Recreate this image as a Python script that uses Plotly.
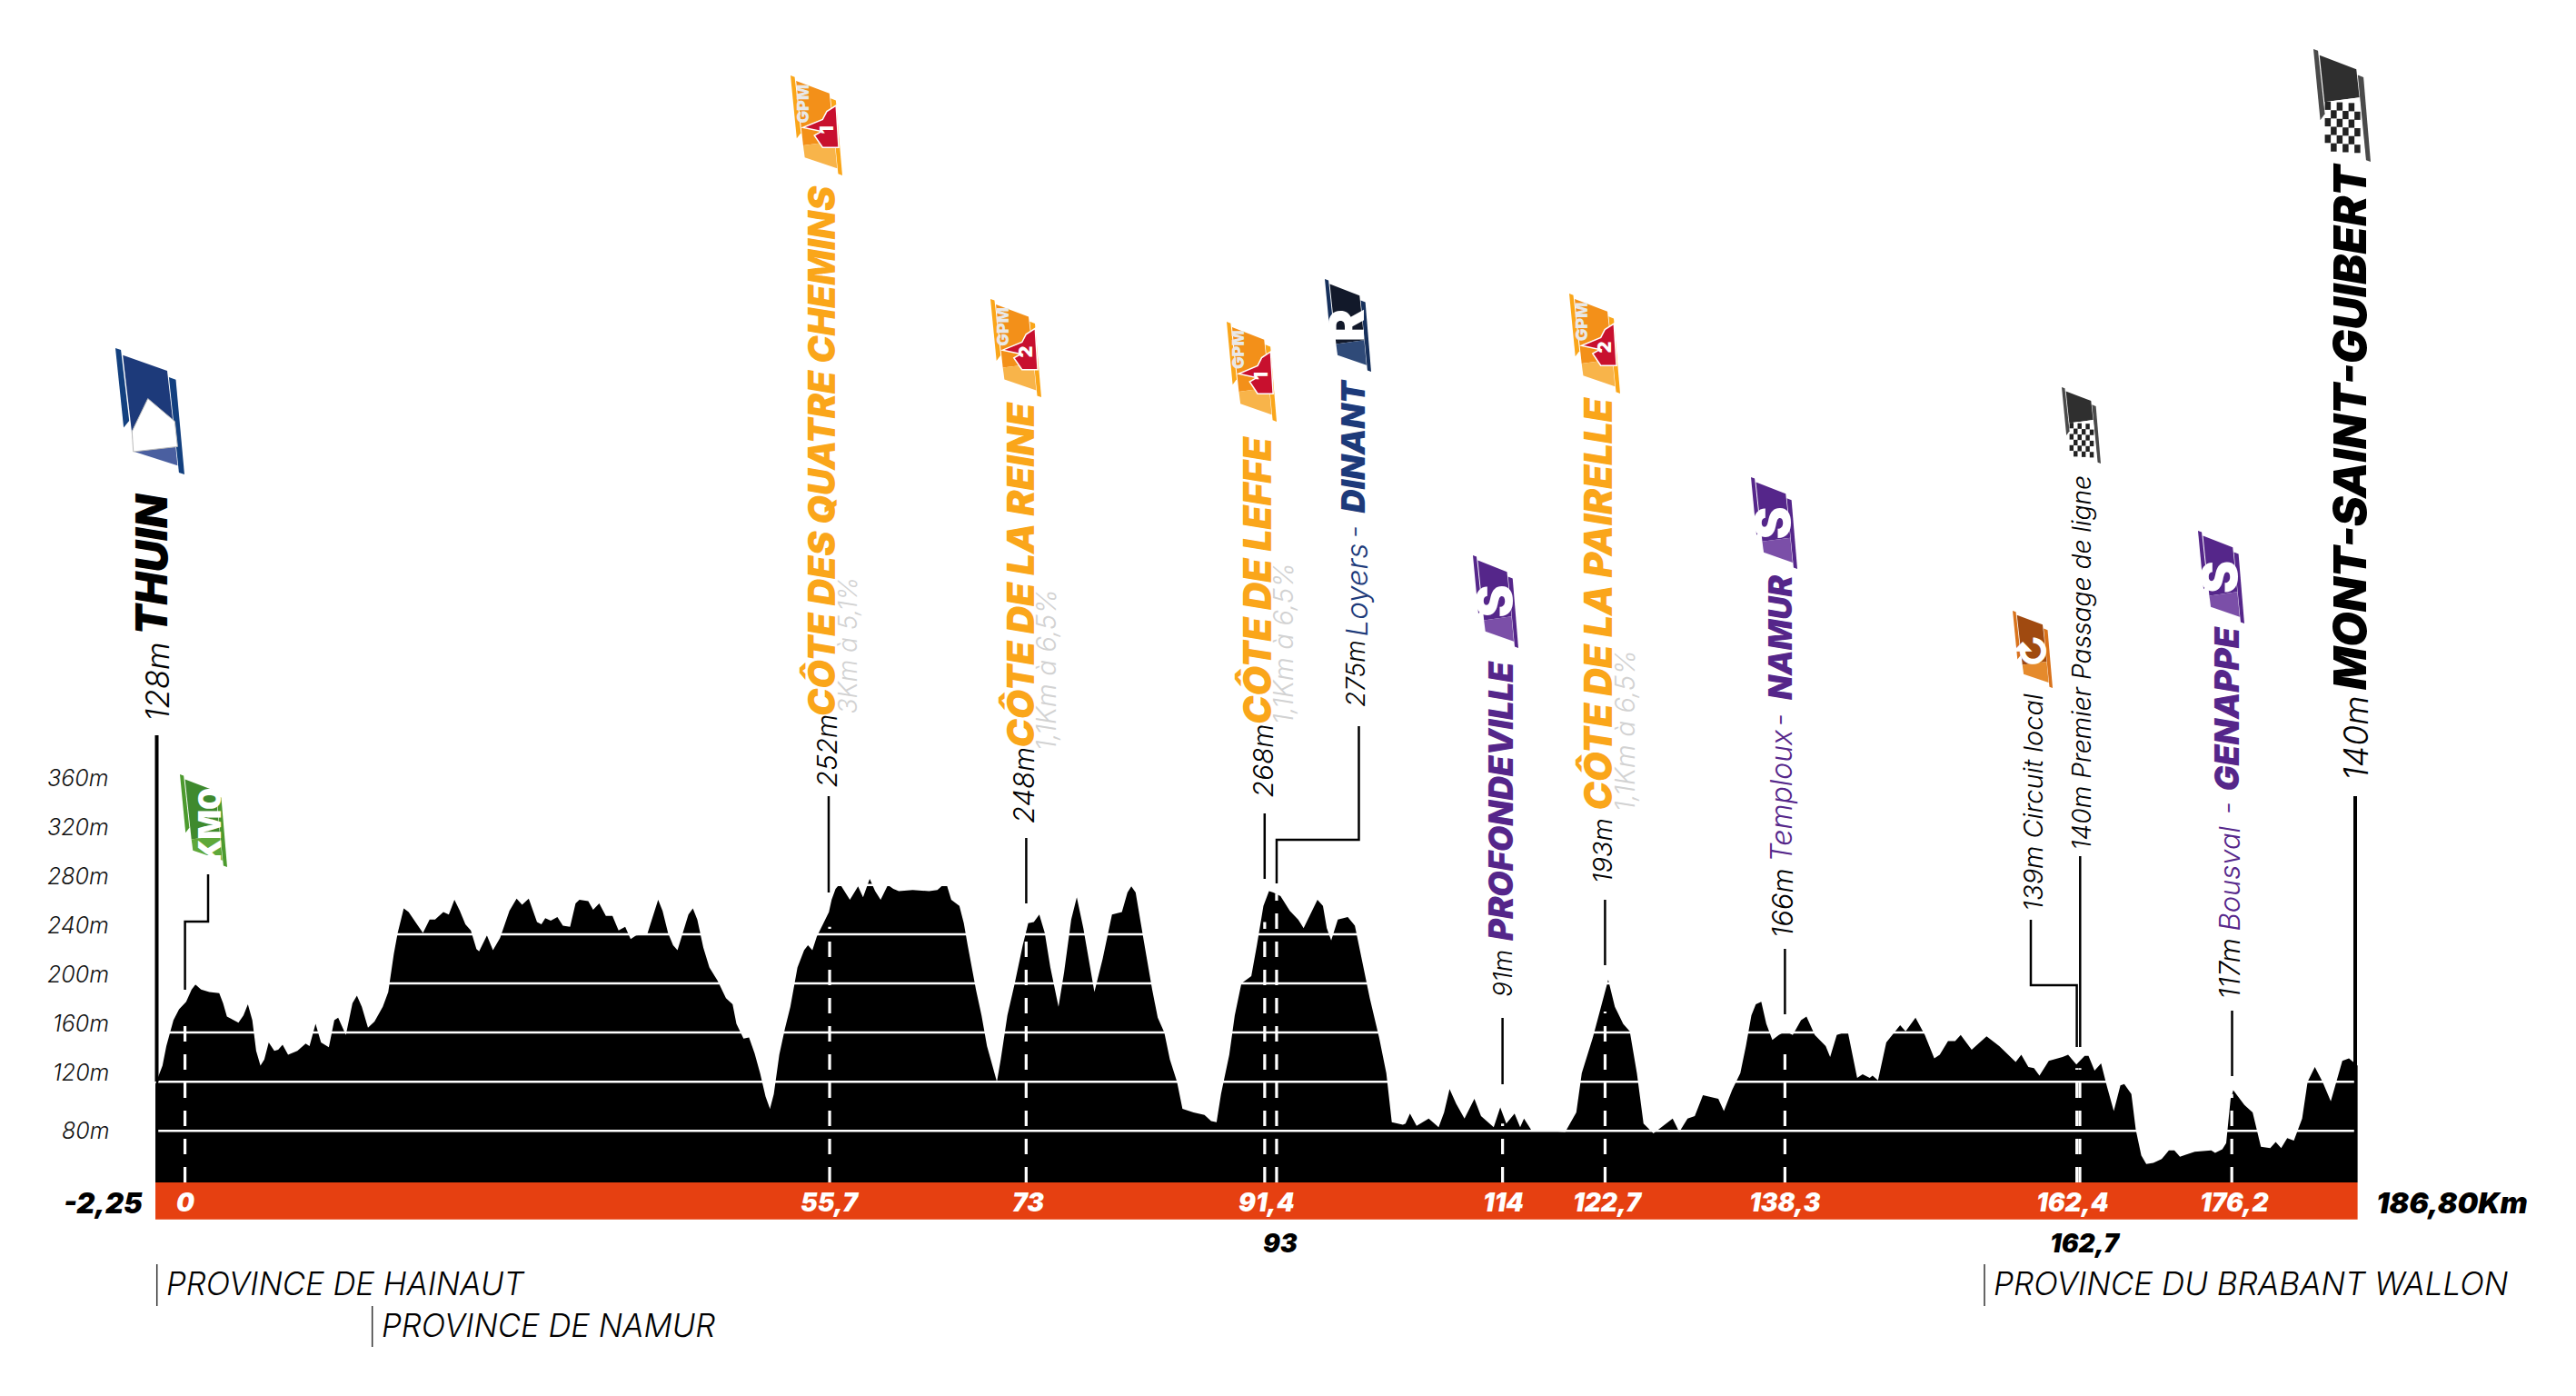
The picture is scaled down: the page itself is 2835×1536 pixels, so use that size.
import plotly.graph_objects as go

W, H = 2835, 1536

# race profile
profile_km = [-2.25, -1.64, -1.31, -0.70, -0.22, 0.39, 0.86, 1.19, 1.67, 2.38, 3.23, 3.56, 3.89, 4.50, 4.88, 5.31, 5.69, 6.07, 6.40, 6.77,
              7.10, 7.48, 7.96, 8.29, 8.67, 9.14, 9.94, 10.65, 10.98, 11.50, 11.97, 12.64, 13.11, 13.44, 14.10, 14.67, 15.05, 15.47, 16.0, 16.56,
              17.27, 17.74, 18.22, 18.55, 19.07, 19.49, 20.11, 20.72, 21.29, 21.76, 22.47, 22.94, 23.42, 23.89, 24.36, 24.83, 25.31, 25.54, 26.21, 26.73,
              27.34, 28.14, 28.76, 29.23, 29.80, 30.51, 30.89, 31.22, 31.69, 32.26, 32.73, 33.35, 33.82, 34.15, 34.91, 35.33, 35.85, 36.42, 36.99, 37.51,
              38.08, 38.55, 39.02, 39.97, 40.91, 41.29, 41.76, 42.19, 42.57, 43.04, 43.51, 43.89, 44.27, 44.79, 45.31, 46.02, 46.73, 47.30, 47.63, 48.24,
              48.71, 49.19, 49.66, 50.13, 50.51, 50.84, 51.31, 51.79, 52.26, 52.87, 53.44, 53.77, 54.15, 54.53, 55.09, 55.57, 55.80, 56.14, 56.51, 56.98,
              57.37, 58.07, 58.5, 59.07, 59.54, 60.01, 60.63, 61.1, 61.57, 62.76, 64.17, 64.88, 65.36, 65.69, 66.07, 66.77, 67.15, 67.48, 68.19, 68.67,
              69.14, 69.99, 70.32, 70.89, 71.5, 72.21, 72.68, 73.16, 73.63, 74.1, 74.58, 75.28, 75.76, 76.37, 76.85, 77.41, 77.89, 78.36, 79.07, 79.87,
              80.72, 81.2, 81.53, 81.9, 82.61, 83.32, 83.8, 84.36, 84.84, 85.45, 85.92, 86.87, 87.81, 88.38, 88.85, 89.23, 89.94, 90.41, 90.98, 91.83,
              92.31, 92.87, 93.35, 93.72, 94.34, 95.14, 95.85, 96.32, 96.89, 97.51, 97.98, 98.31, 98.69, 99.26, 99.73, 100.11, 100.72, 101.29, 102.0, 102.8,
              103.42, 103.89, 104.84, 105.07, 105.45, 106.02, 107.06, 107.91, 108.38, 108.85, 109.42, 110.13, 110.98, 111.55, 112.64, 113.2, 113.72, 114.43, 114.91, 115.24,
              115.85, 117.13, 118.78, 119.73, 120.2, 121.15, 122.09, 122.47, 123.04, 123.75, 124.32, 124.93, 125.5, 126.35, 128.0, 128.57, 129.28, 129.9, 130.6, 131.45,
              131.92, 132.4, 133.1, 133.81, 134.29, 134.76, 135.14, 135.61, 136.04, 136.56, 137.12, 137.69, 138.31, 139.02, 139.49, 140.2, 140.76, 141.14, 141.52, 142.09,
              143.03, 143.84, 144.31, 144.92, 145.16, 145.63, 146.34, 147.53, 148.0, 148.85, 149.65, 150.46, 150.93, 151.64, 152.25, 152.73, 153.67, 154.95, 156.04, 157.45,
              157.93, 158.54, 159.02, 159.49, 160.29, 161.47, 161.95, 162.66, 163.37, 163.7, 164.22, 164.78, 165.26, 165.87, 166.44, 166.77, 167.38, 167.76, 168.23, 168.66,
              169.27, 169.98, 170.6, 171.07, 171.55, 172.82, 174.24, 174.57, 175.19, 175.52, 175.9, 176.13, 177.08, 177.79, 178.5, 179.3, 179.77, 180.24, 180.76, 181.33,
              182.04, 182.51, 183.13, 183.79, 184.5, 185.49, 186.06, 186.8]
profile_alt = [118, 133, 149, 170, 179, 185, 195, 199, 195, 193, 192, 184, 173, 170, 168, 174, 183, 170, 145, 133,
               138, 152, 145, 146, 150, 142, 145, 151, 149, 167, 152, 148, 170, 172, 158, 184, 190, 181, 164, 169,
               181, 193, 224, 241, 261, 258, 249, 241, 252, 252, 258, 256, 268, 259, 248, 243, 228, 226, 239, 227,
               237, 259, 269, 264, 269, 250, 248, 253, 251, 254, 247, 246, 265, 268, 267, 260, 265, 255, 255, 243,
               246, 236, 239, 240, 268, 259, 241, 231, 227, 241, 256, 261, 252, 229, 213, 202, 188, 183, 167, 155,
               156, 143, 127, 108, 98, 110, 142, 163, 181, 213, 227, 231, 227, 238, 249, 258, 268, 277, 281, 274,
               268, 279, 270, 285, 275, 268, 280, 277, 275, 276, 275, 276, 280, 280, 268, 263, 249, 231, 195, 174,
               149, 120, 138, 174, 199, 231, 249, 250, 256, 241, 213, 181, 209, 252, 270, 245, 217, 193, 220, 256,
               258, 274, 279, 274, 234, 195, 172, 160, 138, 120, 98, 95, 93, 88, 87, 110, 142, 174, 200, 206,
               231, 263, 275, 274, 271, 259, 252, 245, 256, 268, 263, 245, 235, 252, 253, 254, 247, 220, 188, 156,
               127, 87, 85, 86, 94, 84, 90, 83, 95, 114, 102, 90, 106, 92, 83, 99, 86, 94, 83, 90,
               81, 80, 79, 95, 127, 156, 188, 203, 181, 167, 161, 127, 86, 78, 90, 79, 90, 92, 109, 107,
               106, 96, 113, 127, 149, 174, 183, 185, 167, 154, 158, 161, 158, 170, 173, 158, 153, 149, 140, 158,
               161, 123, 126, 123, 125, 121, 152, 166, 161, 172, 158, 139, 142, 153, 153, 158, 146, 157, 149, 136,
               142, 132, 131, 125, 137, 140, 142, 134, 141, 141, 129, 135, 117, 96, 117, 118, 110, 81, 60, 53,
               54, 57, 64, 64, 59, 63, 64, 62, 65, 70, 106, 113, 101, 95, 67, 66, 71, 66, 74, 72,
               90, 120, 132, 120, 104, 137, 139, 133]

grid_alts = [80, 120, 160, 200, 240, 280]
tick_alts = [80, 120, 160, 200, 240, 280, 320, 360]
tick_labels = ["80m", "120m", "160m", "200m", "240m", "280m", "320m", "360m"]

# dashed markers inside the profile: where they sit and how high they reach
marker_km = [0.29, 55.63, 72.5, 92.98, 94.0, 113.4, 122.2, 137.64, 162.7, 162.96, 176.0]
marker_top = [175, 246, 234, 250, 273, 86, 177, 145, 131, 131, 110]

bar_labels = ["0", "55,7", "73", "91,4", "114", "122,7", "138,3", "162,4", "176,2"]
under_labels = ["93", "162,7"]
start_label = "-2,25"
end_label = "186,80Km"
provinces = ["PROVINCE DE HAINAUT", "PROVINCE DE NAMUR", "PROVINCE DU BRABANT WALLON"]

BASE_ALT = 38.1
START_KM, END_KM = -2.25, 186.8

ORANGE = "#FAA61A"
PURPLE = "#55268A"
NAVY = "#1D3A7A"
GREY = "#D2D2D2"
RED_BAR = "#E64011"
HEAVY = "Inter"
LIGHT = "Inter"


def fx(px):
    return px / W


def fy(py):
    return 1 - py / H


annotations = []
shapes = []


def vtext(text, cx, bottom, size, color="black", weight=300, family=LIGHT):
    annotations.append(dict(
        text=text, x=fx(cx), y=fy(bottom + 6), xref="paper", yref="paper",
        xanchor="center", yanchor="bottom", textangle=-90, showarrow=False,
        font=dict(family=family, size=size, color=color, weight=weight, style="italic"),
    ))


def htext(text, cx, cy, size, color="black", weight=900, anchor="center"):
    annotations.append(dict(
        text=text, x=fx(cx), y=fy(cy), xref="paper", yref="paper",
        xanchor=anchor, yanchor="middle", showarrow=False,
        font=dict(family=HEAVY, size=size, color=color, weight=weight, style="italic"),
    ))


def path(points, fill=None, line=None, width=0, close=True):
    d = "M " + " L ".join(f"{fx(x):.5f},{fy(y):.5f}" for x, y in points)
    if close:
        d += " Z"
    shapes.append(dict(
        type="path", path=d, xref="paper", yref="paper", layer="above",
        fillcolor=fill if fill else "rgba(0,0,0,0)",
        line=dict(color=line if line else "rgba(0,0,0,0)", width=width),
    ))


def leader(points, width=2.5):
    path(points, line="black", width=width, close=False)


def flag(x0, y0, x1, y1, top, low, strip, split=.68):
    # skewed pennant used for every badge
    def uv(u, v):
        return x0 + u * (x1 - x0), y0 + v * (y1 - y0)

    # left and right edges of the body, so the colour split follows the skew
    left = .108 + (.275 - .108) * (split - .055) / (.82 - .055)
    right = .75 + (.90 - .75) * (split - .18) / (.93 - .18)
    path([uv(0, 0), uv(.08, .015), uv(.2, .575), uv(.12, .63)], fill=strip)
    path([uv(.775, .23), uv(.875, .25), uv(1, 1), uv(.92, .985)], fill=strip)
    path([uv(.108, .055), uv(.75, .18), uv(right, split - .02), uv(left, split + .02)], fill=top)
    path([uv(left, split + .02), uv(right, split - .02), uv(.90, .93), uv(.275, .82)], fill=low)
    return uv


def glyph(text, uv, u, v, size, color="white", weight=900):
    x, y = uv(u, v)
    annotations.append(dict(
        text=text, x=fx(x), y=fy(y), xref="paper", yref="paper",
        xanchor="center", yanchor="middle", textangle=-90, showarrow=False,
        font=dict(family=HEAVY, size=size, color=color, weight=weight),
    ))


def gpm_flag(x0, y0, x1, y1, number):
    uv = flag(x0, y0, x1, y1, "#F39019", "#F8B44A", "#FAA61A")
    path([uv(.88, .3), uv(.93, .72), uv(.62, .72), uv(.46, .60), uv(.6, .56),
          uv(.24, .52), uv(.62, .44), uv(.7, .36)], fill="#C8102E", line="white", width=1.5)
    glyph(number, uv, .7, .54, 20)
    glyph("GPM", uv, .24, .28, 18, color="#E8E8E8")


def letter_flag(x0, y0, x1, y1, letter, top, low, strip):
    uv = flag(x0, y0, x1, y1, top, low, strip)
    glyph(letter, uv, .47, .5, 54)


def checker_flag(x0, y0, x1, y1):
    uv = flag(x0, y0, x1, y1, "#2F2F2F", "#FFFFFF", "#4A4A4A", split=.45)
    cols, rows = 6, 6
    for i in range(cols):
        for j in range(rows):
            if (i + j) % 2:
                continue
            u0 = .2 + i * .62 / cols
            v0 = .46 + j * .44 / rows + u0 * .03
            du, dv = .62 / cols, .44 / rows
            path([uv(u0, v0), uv(u0 + du, v0), uv(u0 + du, v0 + dv), uv(u0, v0 + dv)], fill="#222222")


# profile and white graduations
fig = go.Figure()
fig.add_trace(go.Scatter(
    x=profile_km + [END_KM, START_KM], y=profile_alt + [BASE_ALT, BASE_ALT],
    mode="lines", fill="toself", fillcolor="black", line=dict(width=0, color="black"),
    hoverinfo="skip", showlegend=False,
))
for alt in grid_alts:
    fig.add_trace(go.Scatter(
        x=[START_KM + 0.25, END_KM - 0.3], y=[alt, alt], mode="lines",
        line=dict(color="white", width=2.5), hoverinfo="skip", showlegend=False,
    ))
for km, top in zip(marker_km, marker_top):
    fig.add_trace(go.Scatter(
        x=[km, km], y=[BASE_ALT, top], mode="lines",
        line=dict(color="white", width=3.2, dash="17px,14px"), hoverinfo="skip", showlegend=False,
    ))

# orange km band
shapes.append(dict(type="rect", xref="x", yref="y", x0=START_KM, x1=END_KM, y0=7.8, y1=BASE_ALT,
                   fillcolor=RED_BAR, line=dict(width=0), layer="below"))

# altitude ticks
for alt, label in zip(tick_alts, tick_labels):
    annotations.append(dict(
        text=label, x=fx(122), y=alt, xref="paper", yref="y", xanchor="right", yanchor="middle",
        yshift=0 if alt == 80 else 10, showarrow=False,
        font=dict(family=LIGHT, size=25, color="#111111", weight=300, style="italic"),
    ))

# leader lines above the profile
leader([(172.5, 809), (172.5, 1190)], width=4)
leader([(2592, 876), (2592, 1175)], width=4)
leader([(203.6, 1089), (203.6, 1014), (229, 1014), (229, 962)])
leader([(912, 982), (912, 876)])
leader([(1129.4, 994), (1129.4, 922)])
leader([(1391.8, 967), (1391.8, 895)])
leader([(1405, 972), (1405, 924), (1495.5, 924), (1495.5, 799)])
leader([(1653.6, 1193), (1653.6, 1120)])
leader([(1766.4, 1062), (1766.4, 990)])
leader([(1964.4, 1116), (1964.4, 1044)])
leader([(2285.6, 1152), (2285.6, 1084), (2235, 1084), (2235, 1012)])
leader([(2289.3, 1152), (2289.3, 942)])
leader([(2456.5, 1184), (2456.5, 1112)])

# vertical labels
vtext("128m", 172, 790, 35)
vtext("THUIN", 166, 695, 48, weight=900, family=HEAVY)
vtext("252m", 909, 863, 30)
vtext("CÔTE DES QUATRE CHEMINS", 904, 784, 40.6, color=ORANGE, weight=900, family=HEAVY)
vtext("3Km à 5,1%", 932, 782, 28, color=GREY)
vtext("248m", 1126, 902, 31)
vtext("CÔTE DE LA REINE", 1122, 819, 41.8, color=ORANGE, weight=900, family=HEAVY)
vtext("1,1Km à 6,5%", 1151, 822, 29.5, color=GREY)
vtext("268m", 1389, 874, 30)
vtext("CÔTE DE LEFFE", 1383, 793, 42, color=ORANGE, weight=900, family=HEAVY)
vtext("1,1Km à 6,5%", 1412, 793, 29.5, color=GREY)
vtext("275m", 1492, 774, 28)
vtext("Loyers", 1492, 697, 33, color=NAVY)
vtext("-", 1490, 588, 30, color=NAVY)
vtext("DINANT", 1489, 560, 36, color=NAVY, weight=900, family=HEAVY)
vtext("91m", 1654, 1093, 28)
vtext("PROFONDEVILLE", 1652, 1031, 36.5, color=PURPLE, weight=900, family=HEAVY)
vtext("193m", 1763, 968, 29)
vtext("CÔTE DE LA PAIRELLE", 1758, 888, 42, color=ORANGE, weight=900, family=HEAVY)
vtext("1,1Km à 6,5%", 1788, 889, 29.5, color=GREY)
vtext("166m", 1961, 1028, 31)
vtext("Temploux", 1960, 945, 32, color=PURPLE)
vtext("-", 1958, 795, 30, color=PURPLE)
vtext("NAMUR", 1959, 766, 35, color=PURPLE, weight=900, family=HEAVY)
vtext("139m Circuit local", 2237, 999, 29)
vtext("140m Premier Passage de ligne", 2290, 932, 28.2)
vtext("117m", 2453, 1096, 31)
vtext("Bousval", 2453, 1021, 31, color=PURPLE)
vtext("-", 2451, 892, 30, color=PURPLE)
vtext("GENAPPE", 2450, 867, 37, color=PURPLE, weight=900, family=HEAVY)
vtext("140m", 2592, 855, 37)
vtext("MONT-SAINT-GUIBERT", 2586, 755, 49.5, weight=900, family=HEAVY)

# km labels
bar_cx = [204, 913, 1131, 1393.6, 1654, 1769, 1964, 2281, 2459]
for label, cx in zip(bar_labels, bar_cx):
    htext(label, cx, 1323, 28, color="white")
htext(start_label, 159, 1323, 31, anchor="right")
htext(end_label, 2613, 1323, 32, anchor="left")
htext(under_labels[0], 1409, 1368, 28)
htext(under_labels[1], 2294, 1368, 28)

# provinces
for label, lx, y0, y1, size in zip(provinces, [172.7, 409.7, 2184], [1391, 1437, 1391], [1437, 1482, 1437], [34.7, 34.7, 35]):
    path([(lx, y0), (lx, y1)], line="#333333", width=1.5, close=False)
    htext(label, lx + 8, (y0 + y1) / 2 - 2, size, weight=300, anchor="left")

# badges
uv = flag(127, 383, 203, 522, "#1D3A7A", "#4A5FA0", "#13407F")
path([uv(.24, .66), uv(.47, .40), uv(.86, .58), uv(.90, .78), uv(.26, .82)], fill="white", line="#BBBBBB", width=1)
uv = flag(198, 852, 250, 954, "#3F8A2E", "#5FA83A", "#4C9A2E")
glyph("KM0", uv, .62, .55, 34)
gpm_flag(870, 83, 927, 193, "1")
gpm_flag(1090, 329, 1146, 437, "2")
gpm_flag(1350, 354, 1405, 464, "1")
gpm_flag(1727, 323, 1783, 433, "2")
letter_flag(1458, 307, 1509, 409, "R", "#12192A", "#2F4A78", "#16305C")
letter_flag(1621, 611, 1671, 713, "S", "#55268A", "#7B4FA8", "#55268A")
letter_flag(1927, 525, 1978, 626, "S", "#55268A", "#7B4FA8", "#55268A")
letter_flag(2419, 584, 2470, 686, "S", "#55268A", "#7B4FA8", "#55268A")
uv = flag(2215, 672, 2259, 757, "#A04A10", "#E58A2C", "#D9731C")
glyph("↻", uv, .5, .52, 40)
checker_flag(2269, 426, 2312, 510)
checker_flag(2546, 54, 2609, 178)

fig.update_layout(
    width=W, height=H, margin=dict(l=0, r=0, t=0, b=0),
    paper_bgcolor="white", plot_bgcolor="white", showlegend=False,
    xaxis=dict(range=[-15.59, 205.55], visible=False),
    yaxis=dict(range=[-135.8, 1000.3], visible=False),
    annotations=annotations, shapes=shapes,
)
# the page's default body margin would push the figure off by 8px
fig.write_html("out.html", config={"displayModeBar": False}, post_script="document.body.style.margin = '0';")
